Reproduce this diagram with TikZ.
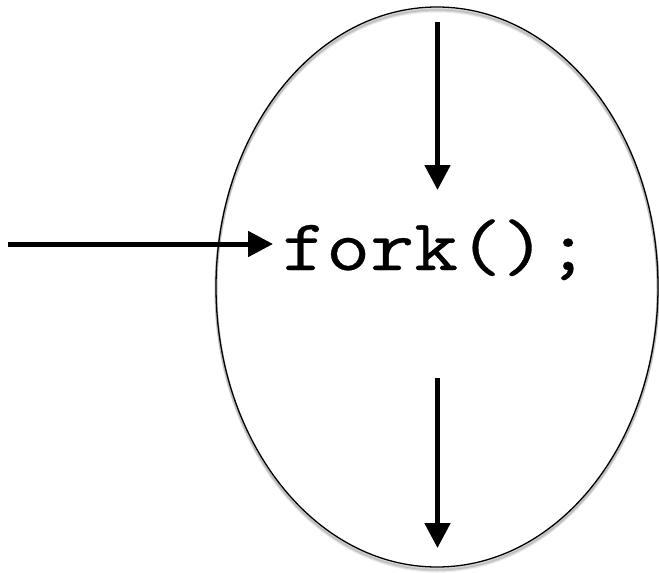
\documentclass[tikz,border=0pt]{standalone}
\usepackage{fontspec}
\usepackage{graphicx}
\newfontfamily\codefont[FakeBold=0.4]{Latin Modern Mono}
\usetikzlibrary{arrows.meta,shapes.geometric}
\begin{document}
\begin{tikzpicture}[x=1pt,y=-1pt,
  flow/.style={line width=5pt,-{Triangle[length=25pt,width=25pt]}},
  bubble/.style={ellipse,draw=black,line width=1.3pt,minimum width=442pt,minimum height=560pt,inner sep=0pt},
  codetext/.style={font=\codefont\fontsize{73}{80}\selectfont,inner sep=0pt}]
\useasboundingbox (0,0) rectangle (659,573);
% soft shadow of the outline
\foreach \o/\d in {0.07/4,0.09/3,0.12/2}{
  \draw[black,opacity=\o,line width=3pt] (437,287+\d) ellipse [x radius=221pt,y radius=280pt];
}
\node[bubble] (oval) at (437,287) {};
\node[codetext,anchor=base west] (fork) at (282,270) {\scalebox{1.17}[1]{fork();}};
\coordinate (topS) at (437.5,22);
\coordinate (topE) at (437.5,190);
\coordinate (leftS) at (8,244);
\coordinate (leftE) at (273,244);
\coordinate (botS) at (437.5,378);
\coordinate (botE) at (437.5,548);
\draw[flow] (topS) -- (topE);
\draw[flow] (leftS) -- (leftE);
\draw[flow] (botS) -- (botE);
\end{tikzpicture}
\end{document}
